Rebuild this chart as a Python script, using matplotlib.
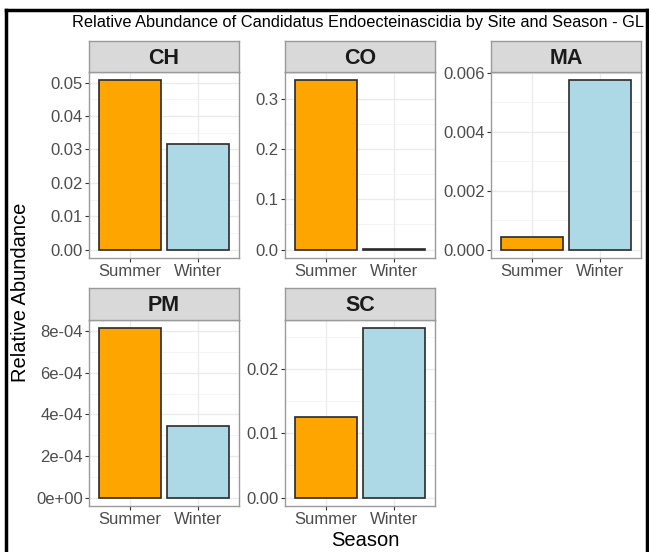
import numpy as np
import matplotlib
matplotlib.use("Agg")
from matplotlib import pyplot as plt
from matplotlib.lines import Line2D

plt.rcParams['font.family'] = ['Liberation Sans', 'DejaVu Sans']

# data
sites = ['CH', 'CO', 'MA', 'PM', 'SC']
seasons = ['Summer', 'Winter']
summer = [0.0507, 0.336, 0.00043, 0.000814, 0.01256]
winter = [0.0315, 0.0012, 0.00574, 0.000344, 0.0263]
bar_colors = ['#FFA500', '#ADD8E6']

# tick breaks and labels per facet
breaks = {
    'CH': [0.00, 0.01, 0.02, 0.03, 0.04, 0.05],
    'CO': [0.0, 0.1, 0.2, 0.3],
    'MA': [0.000, 0.002, 0.004, 0.006],
    'PM': [0.0, 2e-4, 4e-4, 6e-4, 8e-4],
    'SC': [0.00, 0.01, 0.02],
}
labels = {
    'CH': ['0.00', '0.01', '0.02', '0.03', '0.04', '0.05'],
    'CO': ['0.0', '0.1', '0.2', '0.3'],
    'MA': ['0.000', '0.002', '0.004', '0.006'],
    'PM': ['0e+00', '2e-04', '4e-04', '6e-04', '8e-04'],
    'SC': ['0.00', '0.01', '0.02'],
}

W, H = 649, 552
fig = plt.figure(figsize=(W / 100, H / 100), dpi=100)

def box(x0, y0, x1, y1):
    return [x0 / W, 1 - y1 / H, (x1 - x0) / W, (y1 - y0) / H]

cols = [(89, 239), (285, 435), (491, 641)]
rows = [(41, 72, 258), (288, 320, 506)]

border_col = '#9a9a9a'
for i, site in enumerate(sites):
    r, c = divmod(i, 3)
    x0, x1 = cols[c]
    st, pt, pb = rows[r]

    ax = fig.add_axes(box(x0, pt, x1, pb))
    vals = [summer[i], winter[i]]
    ax.bar([1, 2], vals, width=0.9, color=bar_colors, edgecolor='#2a2a2a',
           linewidth=1.2, zorder=3)
    top = max(vals)
    lo, hi = -0.05 * top, 1.05 * top
    b = breaks[site]
    ax.set_yticks(b)
    ax.set_yticklabels(labels[site])
    step = b[1] - b[0]
    minors = [v + step / 2 for v in b if lo < v + step / 2 < hi]
    ax.set_yticks(minors, minor=True)
    ax.set_xticks([1, 2])
    ax.set_xticklabels(seasons)
    ax.set_xlim(0.4, 2.6)
    ax.set_ylim(lo, hi)
    ax.grid(True, which='major', color='#EBEBEB', linewidth=1.0, zorder=0)
    ax.grid(True, which='minor', axis='y', color='#F2F2F2', linewidth=0.6, zorder=0)
    ax.tick_params(which='major', length=3, width=0.8, color='#333333',
                   labelcolor='#4D4D4D', labelsize=12, pad=1.5)
    ax.tick_params(which='minor', length=0)
    for s in ax.spines.values():
        s.set_color(border_col)
        s.set_linewidth(1.0)
    ax.set_axisbelow(True)

    sax = fig.add_axes(box(x0, st, x1, pt))
    sax.set_facecolor('#D9D9D9')
    sax.set_xticks([])
    sax.set_yticks([])
    for s in sax.spines.values():
        s.set_color(border_col)
        s.set_linewidth(1.0)
    sax.text(0.5, 0.45, site, ha='center', va='center', fontsize=15.5,
             fontweight='bold', color='#1A1A1A', transform=sax.transAxes)

fig.text(72 / W, 1 - 22 / H,
         'Relative Abundance of Candidatus Endoecteinascidia by Site and Season - GL',
         ha='left', va='center', fontsize=11.8, color='black')
fig.text(21 / W, 1 - 292 / H, 'Relative Abundance', rotation=90,
         ha='center', va='center', fontsize=14.5, color='black')
fig.text(365 / W, 1 - 540 / H, 'Season', ha='center', va='center',
         fontsize=14.5, color='black')

# black frame from the screenshot
lw = 2.5
fig.add_artist(Line2D([6 / W, 6 / W], [0, 1 - 10 / H], color='black', lw=lw,
                      transform=fig.transFigure))
fig.add_artist(Line2D([6 / W, 647 / W], [1 - 10 / H, 1 - 10 / H], color='black',
                      lw=lw, transform=fig.transFigure))
fig.add_artist(Line2D([647 / W, 647 / W], [0, 1 - 10 / H], color='black', lw=lw,
                      transform=fig.transFigure))

fig.savefig('out.png', dpi=100)
